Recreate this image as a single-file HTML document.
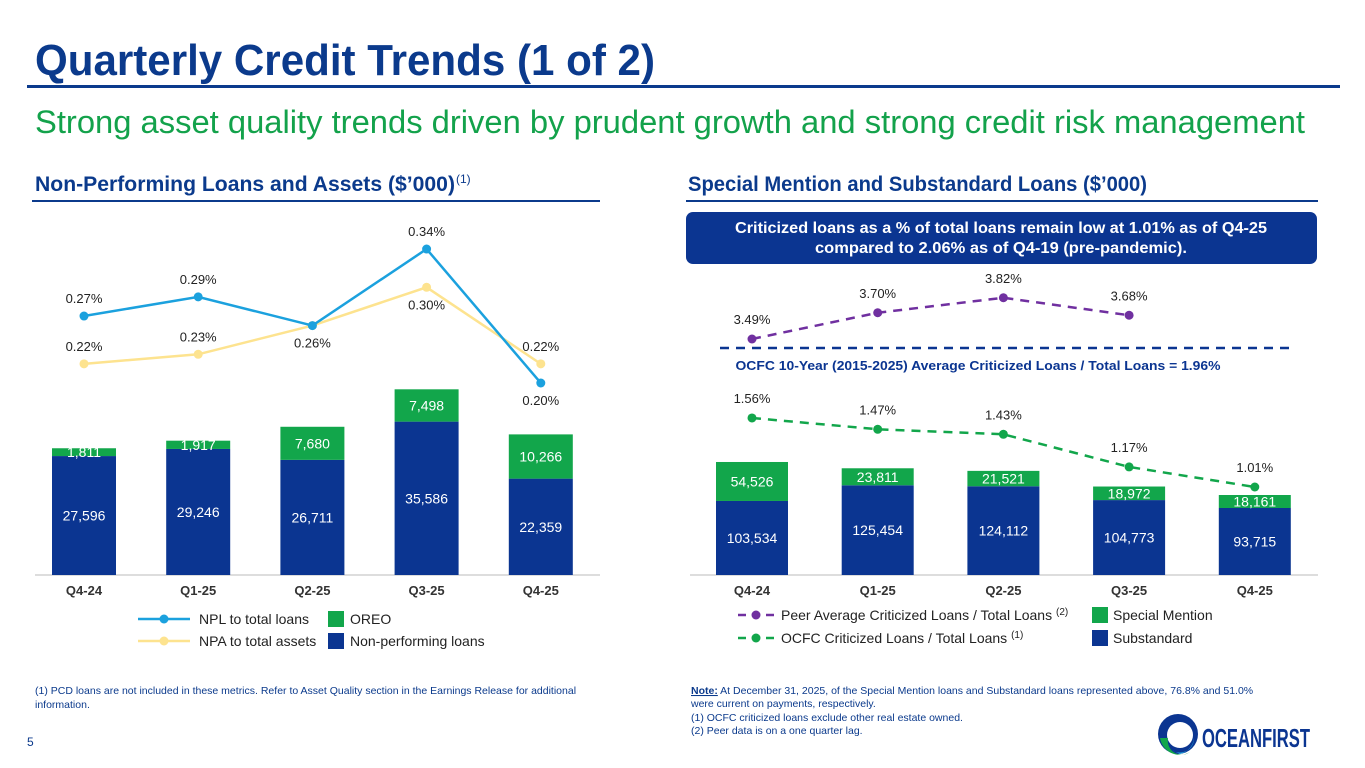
<!DOCTYPE html>
<html><head><meta charset="utf-8"><title>Quarterly Credit Trends</title>
<style>
html,body{margin:0;padding:0;background:#fff;}
svg{display:block;font-family:"Liberation Sans",sans-serif;}
</style></head>
<body>
<svg id="root" width="1365" height="768" viewBox="0 0 1365 768">
  <text x="35" y="75" font-size="44" font-weight="bold" fill="#0b3a8c" textLength="620" lengthAdjust="spacingAndGlyphs">Quarterly Credit Trends (1 of 2)</text>
  <rect x="27" y="85" width="1313" height="3" fill="#0b3a8c"/>
  <text x="35" y="133" font-size="32" fill="#13a24b" textLength="1270" lengthAdjust="spacingAndGlyphs">Strong asset quality trends driven by prudent growth and strong credit risk management</text>

  <text x="35" y="191" font-size="21" font-weight="bold" fill="#0b3a8c" textLength="420" lengthAdjust="spacingAndGlyphs">Non-Performing Loans and Assets ($’000)</text>
  <text x="456" y="183" font-size="12" fill="#0b3a8c">(1)</text>
  <rect x="32" y="200" width="568" height="2" fill="#0b3a8c"/>

  <text x="688" y="191" font-size="21" font-weight="bold" fill="#0b3a8c" textLength="459" lengthAdjust="spacingAndGlyphs">Special Mention and Substandard Loans ($’000)</text>
  <rect x="686" y="200" width="632" height="2" fill="#0b3a8c"/>

  <rect x="686" y="212" width="631" height="52" rx="7" fill="#0b3591"/>
  <text x="1001" y="233" font-size="16" font-weight="bold" fill="#fff" text-anchor="middle" textLength="532" lengthAdjust="spacingAndGlyphs">Criticized loans as a % of total loans remain low at 1.01% as of Q4-25</text>
  <text x="1001" y="253" font-size="16" font-weight="bold" fill="#fff" text-anchor="middle" textLength="372" lengthAdjust="spacingAndGlyphs">compared to 2.06% as of Q4-19 (pre-pandemic).</text>

  <g id="left"></g>
  <g id="right"></g>

  <!-- left legend -->
  <line x1="138" y1="619" x2="190" y2="619" stroke="#1ba1de" stroke-width="2.5"/>
  <circle cx="164" cy="619" r="4.5" fill="#1ba1de"/>
  <text x="199" y="624" font-size="14" fill="#222">NPL to total loans</text>
  <line x1="138" y1="641" x2="190" y2="641" stroke="#fde38f" stroke-width="2.5"/>
  <circle cx="164" cy="641" r="4.5" fill="#fde38f"/>
  <text x="199" y="646" font-size="14" fill="#222">NPA to total assets</text>
  <rect x="328" y="611" width="16" height="16" fill="#12a64b"/>
  <text x="350" y="624" font-size="14" fill="#222">OREO</text>
  <rect x="328" y="633" width="16" height="16" fill="#0b3591"/>
  <text x="350" y="646" font-size="14" fill="#222">Non-performing loans</text>

  <!-- right legend -->
  <line x1="738" y1="615" x2="746" y2="615" stroke="#7030a0" stroke-width="2.5"/>
  <circle cx="756" cy="615" r="4.5" fill="#7030a0"/>
  <line x1="766" y1="615" x2="774" y2="615" stroke="#7030a0" stroke-width="2.5"/>
  <text x="781" y="620" font-size="14" fill="#222">Peer Average Criticized Loans / Total Loans <tspan font-size="10" dy="-5">(2)</tspan></text>
  <line x1="738" y1="638" x2="746" y2="638" stroke="#12a64b" stroke-width="2.5"/>
  <circle cx="756" cy="638" r="4.5" fill="#12a64b"/>
  <line x1="766" y1="638" x2="774" y2="638" stroke="#12a64b" stroke-width="2.5"/>
  <text x="781" y="643" font-size="14" fill="#222">OCFC Criticized Loans / Total Loans <tspan font-size="10" dy="-5">(1)</tspan></text>
  <rect x="1092" y="607" width="16" height="16" fill="#12a64b"/>
  <text x="1113" y="620" font-size="14" fill="#222">Special Mention</text>
  <rect x="1092" y="630" width="16" height="16" fill="#0b3591"/>
  <text x="1113" y="643" font-size="14" fill="#222">Substandard</text>

  <!-- footnotes -->
  <text x="35" y="694" font-size="10.5" fill="#0b3a8c">(1)  PCD loans are not included in these metrics. Refer to Asset Quality section in the Earnings Release for additional</text>
  <text x="35" y="708" font-size="10.5" fill="#0b3a8c">information.</text>
  <text x="691" y="694" font-size="10.5" fill="#0b3a8c"><tspan font-weight="bold" text-decoration="underline">Note:</tspan> At December 31, 2025, of the Special Mention loans and Substandard loans represented above, 76.8% and  51.0%</text>
  <text x="691" y="707" font-size="10.5" fill="#0b3a8c">were current on payments, respectively.</text>
  <text x="691" y="721" font-size="10.5" fill="#0b3a8c">(1)  OCFC criticized loans exclude other real estate owned.</text>
  <text x="691" y="734" font-size="10.5" fill="#0b3a8c">(2)  Peer data is on a one quarter lag.</text>
  <text x="27" y="746" font-size="12" fill="#0b3a8c">5</text>

  <!-- logo -->
  <g>
    <circle cx="1178" cy="734" r="20" fill="#0b3591"/>
    <circle cx="1180" cy="735" r="13" fill="#fff"/>
    <path d="M1160 738 A20 20 0 0 0 1190 752 A14 14 0 0 1 1168 738 Z" fill="#12a64b"/>
    <path d="M1172 750 A14 14 0 0 0 1194 738 A18 18 0 0 1 1180 754 Z" fill="#1ba1de"/>
    <text x="1202" y="747" font-size="26" font-weight="bold" fill="#0b3591" textLength="108" lengthAdjust="spacingAndGlyphs">OCEANFIRST</text>
  </g>
</svg>

<script>
// ---- Left chart data ----
const leftCategories = ['Q4-24','Q1-25','Q2-25','Q3-25','Q4-25'];
const nplValues = [27596, 29246, 26711, 35586, 22359];
const oreoValues = [1811, 1917, 7680, 7498, 10266];
const nplRatio = [0.27, 0.29, 0.26, 0.34, 0.20];
const npaRatio = [0.22, 0.23, 0.26, 0.30, 0.22];
const nplLabelPos = ['above','above','none','above','below'];
const npaLabelPos = ['above','above','below','below','above'];

// ---- Right chart data ----
const rightCategories = ['Q4-24','Q1-25','Q2-25','Q3-25','Q4-25'];
const substandardValues = [103534, 125454, 124112, 104773, 93715];
const specialMentionValues = [54526, 23811, 21521, 18972, 18161];
const ocfcRatio = [1.56, 1.47, 1.43, 1.17, 1.01];
const peerRatio = [3.49, 3.70, 3.82, 3.68];

const NS = 'http://www.w3.org/2000/svg';
function mk(parent, tag, attrs, text) {
  const e = document.createElementNS(NS, tag);
  for (const k in attrs) e.setAttribute(k, attrs[k]);
  if (text !== undefined) e.textContent = text;
  parent.appendChild(e);
  return e;
}
const fmt = v => v.toLocaleString('en-US');
const NAVY = '#0b3591', GREEN = '#12a64b';

// ---- Left chart ----
(function () {
  const g = document.getElementById('left');
  const base = 575;
  const xL = i => 84 + i * 114.2;
  const yBar = v => base - v * 0.00431;
  const yPct = v => 383 - (v - 0.20) * 957;
  const bw = 64;
  mk(g, 'line', {x1: 35, y1: base, x2: 600, y2: base, stroke: '#bbb', 'stroke-width': 1});
  leftCategories.forEach((c, i) => {
    const x = xL(i);
    const yTop1 = yBar(nplValues[i]);
    const r1 = mk(g, 'rect', {x: x - bw / 2, y: yTop1, width: bw, height: base - yTop1, fill: NAVY});
    
    
    const yTop2 = yBar(nplValues[i] + oreoValues[i]);
    const r2 = mk(g, 'rect', {x: x - bw / 2, y: yTop2, width: bw, height: yTop1 - yTop2, fill: GREEN});
    
    
    const t1 = mk(g, 'text', {x: x, y: (yTop1 + base) / 2 + 5, 'font-size': 14, fill: '#fff', 'text-anchor': 'middle'}, fmt(nplValues[i]));
    
    
    const t2 = mk(g, 'text', {x: x, y: (yTop1 + yTop2) / 2 + 5, 'font-size': 14, fill: '#fff', 'text-anchor': 'middle'}, fmt(oreoValues[i]));
    
    
    const ax = mk(g, 'text', {x: x, y: 595, 'font-size': 13, 'font-weight': 'bold', fill: '#333', 'text-anchor': 'middle'}, c);
    
    
  });
  function series(vals, color, pos, name) {
    const pts = vals.map((v, i) => xL(i) + ',' + yPct(v)).join(' ');
    const pl = mk(g, 'polyline', {points: pts, fill: 'none', stroke: color, 'stroke-width': 2.5});
    
    
    vals.forEach((v, i) => {
      const c = mk(g, 'circle', {cx: xL(i), cy: yPct(v), r: 4.5, fill: color});
      
      
      if (pos[i] === 'none') return;
      const ty = pos[i] === 'above' ? yPct(v) - 13 : yPct(v) + 22;
      const t = mk(g, 'text', {x: xL(i), y: ty, 'font-size': 13, fill: '#222', 'text-anchor': 'middle'}, v.toFixed(2) + '%');
      
      
    });
  }
  series(npaRatio, '#fde38f', npaLabelPos, 'npa-ratio');
  series(nplRatio, '#1ba1de', nplLabelPos, 'npl-ratio');
})();

// ---- Right chart ----
(function () {
  const g = document.getElementById('right');
  const base = 575;
  const xR = i => 752 + i * 125.7;
  const yBar = v => base - v * 0.000715;
  const yOcfc = v => 487 - (v - 1.01) * 125.5;
  const yPeer = v => 339 - (v - 3.49) * 125;
  const bw = 72;
  mk(g, 'line', {x1: 690, y1: base, x2: 1318, y2: base, stroke: '#bbb', 'stroke-width': 1});
  rightCategories.forEach((c, i) => {
    const x = xR(i);
    const y1 = yBar(substandardValues[i]);
    const r1 = mk(g, 'rect', {x: x - bw / 2, y: y1, width: bw, height: base - y1, fill: NAVY});
    
    
    const y2 = yBar(substandardValues[i] + specialMentionValues[i]);
    const r2 = mk(g, 'rect', {x: x - bw / 2, y: y2, width: bw, height: y1 - y2, fill: GREEN});
    
    
    const t1 = mk(g, 'text', {x: x, y: (y1 + base) / 2 + 5, 'font-size': 14, fill: '#fff', 'text-anchor': 'middle'}, fmt(substandardValues[i]));
    
    
    const t2 = mk(g, 'text', {x: x, y: (y1 + y2) / 2 + 5, 'font-size': 14, fill: '#fff', 'text-anchor': 'middle'}, fmt(specialMentionValues[i]));
    
    
    const ax = mk(g, 'text', {x: x, y: 595, 'font-size': 13, 'font-weight': 'bold', fill: '#333', 'text-anchor': 'middle'}, c);
    
    
  });
  const avg = mk(g, 'line', {x1: 720, y1: 348, x2: 1292, y2: 348, stroke: '#0b3591', 'stroke-width': 2.5, 'stroke-dasharray': '9 7'});
  
  
  const avgT = mk(g, 'text', {x: 978, y: 370, 'font-size': 13, 'font-weight': 'bold', fill: '#0b3591', 'text-anchor': 'middle', textLength: 485, lengthAdjust: 'spacingAndGlyphs'}, 'OCFC 10-Year (2015-2025) Average Criticized Loans / Total Loans = 1.96%');
  
  

  function series(vals, color, yf, name) {
    const pts = vals.map((v, i) => xR(i) + ',' + yf(v)).join(' ');
    const pl = mk(g, 'polyline', {points: pts, fill: 'none', stroke: color, 'stroke-width': 2.5, 'stroke-dasharray': '9 7'});
    
    
    vals.forEach((v, i) => {
      const c = mk(g, 'circle', {cx: xR(i), cy: yf(v), r: 4.5, fill: color});
      
      
      const t = mk(g, 'text', {x: xR(i), y: yf(v) - 15, 'font-size': 13, fill: '#222', 'text-anchor': 'middle'}, v.toFixed(2) + '%');
      
      
    });
  }
  series(peerRatio, '#7030a0', yPeer, 'peer-ratio');
  series(ocfcRatio, '#12a64b', yOcfc, 'ocfc-ratio');
})();
</script>
</body></html>
